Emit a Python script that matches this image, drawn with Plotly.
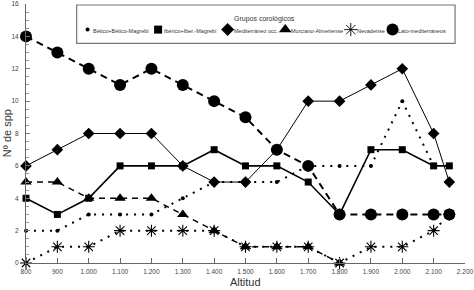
import plotly.graph_objects as go

# ---------------- data ----------------
altitud = [800, 900, 1000, 1100, 1200, 1300, 1400, 1500, 1600, 1700, 1800, 1900, 2000, 2100, 2150]

betico = [2, 2, 3, 3, 3, 4, 5, 5, 5, 6, 6, 6, 10, 6]
iberico = [4, 3, 4, 6, 6, 6, 7, 6, 6, 5, 3, 7, 7, 6, 6]
mediterraneo = [6, 7, 8, 8, 8, 6, 5, 5, 7, 10, 10, 11, 12, 8, 5]
murciano = [5, 5, 4, 4, 4, 3, 2, 1, 1, 1, 0]
nevadenses = [0, 1, 1, 2, 2, 2, 2, 1, 1, 1, 0, 1, 1, 2, 3]
lato = [14, 13, 12, 11, 12, 11, 10, 9, 7, 6, 3, 3, 3, 3, 3]

series_names = ["Bético+Bético-Magrebí", "Ibérico+Iber.-Magrebí", "Mediterráneo occ.",
                "Murciano-Almeriense", "Nevadense", "Lato-mediterráneos"]

x_tickvals = [800, 900, 1000, 1100, 1200, 1300, 1400, 1500, 1600, 1700, 1800, 1900, 2000, 2100, 2200]
x_ticktext = ["800", "900", "1.000", "1.100", "1.200", "1.300", "1.400", "1.500", "1.600",
              "1.700", "1.800", "1.900", "2.000", "2.100", "2.200"]
y_tickvals = [0, 2, 4, 6, 8, 10, 12, 14, 16]

# ---------------- layout geometry (pixels) ----------------
W, H = 474, 290
L, R, T, B = 26, 6, 0, 27
PW = W - L - R
PH = H - T - B


def px_to_paper_x(px):
    return (px - L) / PW


def px_to_paper_y(py):
    return (T + PH - py) / PH


styles = [
    dict(dash="2px,6px", width=2.0, symbol="circle", size=4),
    dict(dash="solid", width=1.6, symbol="square", size=7),
    dict(dash="solid", width=1.0, symbol="diamond", size=9),
    dict(dash="6px,5px", width=1.4, symbol="triangle-up", size=10),
    dict(dash="2px,6px", width=2.0, symbol="asterisk-open", size=10),
    dict(dash="7px,5px", width=2.0, symbol="circle", size=12),
]
values = [betico, iberico, mediterraneo, murciano, nevadenses, lato]

fig = go.Figure()
for name, vals, st in zip(series_names, values, styles):
    marker = dict(symbol=st["symbol"], size=st["size"], color="black")
    if st["symbol"] == "asterisk-open":
        marker["line"] = dict(color="#222", width=1.1)
    fig.add_trace(go.Scatter(
        x=altitud[:len(vals)], y=vals, mode="lines+markers", name=name,
        line=dict(color="black", width=st["width"], dash=st["dash"]),
        marker=marker, showlegend=False, cliponaxis=False,
    ))

# ---------------- custom legend (on a pixel overlay axis) ----------------
legend_sym_x = [88, 159, 229, 287, 353, 395]
legend_y = 26
for i, (name, st) in enumerate(zip(series_names, styles)):
    sz = {0: 4, 1: 8, 2: 10, 3: 11, 4: 11, 5: 12}[i]
    marker = dict(symbol=st["symbol"], size=sz, color="black")
    if st["symbol"] == "asterisk-open":
        marker["line"] = dict(color="#222", width=0.9)
    fig.add_trace(go.Scatter(
        x=[legend_sym_x[i]], y=[legend_y], xaxis="x2", yaxis="y2", mode="markers",
        marker=marker, showlegend=False, hoverinfo="skip", cliponaxis=False,
    ))
    fig.add_annotation(
        x=legend_sym_x[i] + (4 if i else 3), y=legend_y + 1, xref="x2", yref="y2",
        text=name, showarrow=False, xanchor="left", yanchor="middle",
        font=dict(family="Liberation Sans", size=5.5, color="#333"),
    )

fig.add_annotation(x=266, y=15, xref="x2", yref="y2", text="Grupos corológicos",
                   showarrow=False, xanchor="center", yanchor="middle",
                   font=dict(family="Liberation Sans", size=7, color="#333"))

fig.add_shape(type="rect", xref="x2", yref="y2", x0=77, x1=458, y0=1, y1=40,
              line=dict(color="#777", width=1.2), fillcolor="rgba(0,0,0,0)", layer="below")

# axis titles (paper coordinates)
fig.add_annotation(x=px_to_paper_x(247), y=px_to_paper_y(282), xref="paper", yref="paper",
                   text="Altitud", showarrow=False, xanchor="center", yanchor="middle",
                   font=dict(family="Liberation Sans", size=11, color="#333"))
fig.add_annotation(x=px_to_paper_x(7), y=px_to_paper_y(131), xref="paper", yref="paper",
                   text="Nº de spp", showarrow=False, textangle=-90,
                   xanchor="center", yanchor="middle",
                   font=dict(family="Liberation Sans", size=11, color="#333"))

fig.update_layout(
    width=W, height=H,
    margin=dict(l=L, r=R, t=T, b=B),
    paper_bgcolor="white", plot_bgcolor="white",
    xaxis=dict(
        range=[800, 2200], tickvals=x_tickvals, ticktext=x_ticktext,
        ticks="inside", ticklen=5, tickcolor="#666", tickwidth=1,
        showline=True, linecolor="#666", linewidth=1, showgrid=False, zeroline=False,
        tickfont=dict(family="Liberation Sans", size=6.5, color="#444"),
        ticklabeloverflow="allow", ticklabelstandoff=2,
    ),
    yaxis=dict(
        range=[0, 16], tickvals=y_tickvals,
        ticks="inside", ticklen=4, tickcolor="#777", tickwidth=1,
        minor=dict(dtick=0.5, ticks="inside", ticklen=3, tickcolor="#999", tickwidth=1, showgrid=False),
        showline=True, linecolor="#666", linewidth=1, showgrid=False, zeroline=False,
        tickfont=dict(family="Liberation Sans", size=6.5, color="#444"),
        ticklabeloverflow="allow", ticklabelstandoff=5,
    ),
    xaxis2=dict(range=[L, W - R], overlaying="x", visible=False, showgrid=False),
    yaxis2=dict(range=[T + PH, T], overlaying="y", visible=False, showgrid=False),
    showlegend=False,
)

fig.write_html("out.html")
